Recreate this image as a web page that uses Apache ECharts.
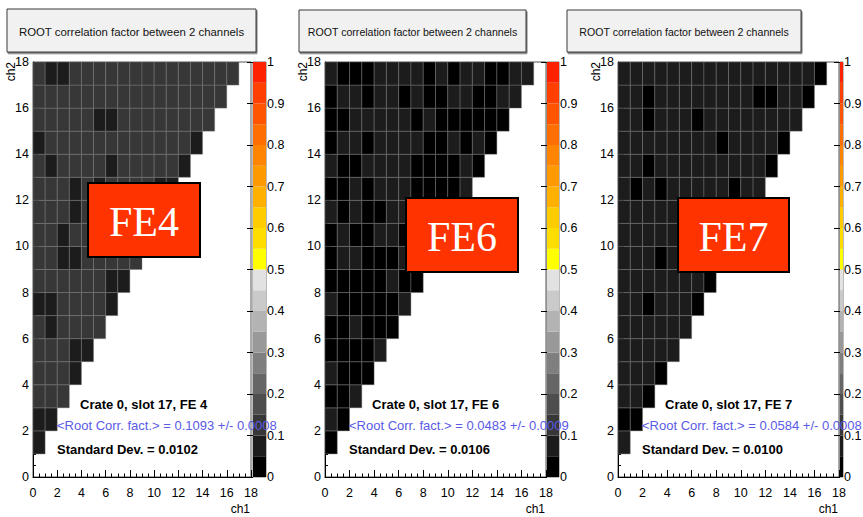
<!DOCTYPE html>
<html>
<head>
<meta charset="utf-8">
<script src="https://cdn.jsdelivr.net/npm/echarts@6/dist/echarts.min.js"></script>
<style>
  html, body { margin: 0; padding: 0; background: #ffffff; }
  #chart { width: 863px; height: 517px; }
</style>
</head>
<body>
<div id="chart"></div>
<script>
// ---- axis ticks ----
const chTicks = [0, 2, 4, 6, 8, 10, 12, 14, 16, 18];
const zTicks = [0, 0.1, 0.2, 0.3, 0.4, 0.5, 0.6, 0.7, 0.8, 0.9, 1];

// ---- colour scale: 20 contours from 0 to 1 ----
const zLevels = [0, 0.05, 0.1, 0.15, 0.2, 0.25, 0.3, 0.35, 0.4, 0.45, 0.5,
                 0.55, 0.6, 0.65, 0.7, 0.75, 0.8, 0.85, 0.9, 0.95, 1];
const zPalette = ['#000000', '#1c1c1c', '#373737', '#4e4e4e', '#666666',
                  '#7f7f7f', '#999999', '#b3b3b3', '#cacaca', '#e2e2e2',
                  '#ffff00', '#ffdd00', '#ffcc00', '#ffb000', '#ff9900',
                  '#ff8400', '#ff6e00', '#ff5500', '#ff4000', '#ff2200'];

// ---- correlation factor per channel pair; row k holds ch2 = k+1, entries ch1 = 0..k ----
const fe4Rows = [
  [0.096],
  [0.094, 0.097],
  [0.113, 0.111, 0.116],
  [0.112, 0.118, 0.110, 0.097],
  [0.115, 0.109, 0.114, 0.095, 0.098],
  [0.111, 0.093, 0.117, 0.112, 0.110, 0.114],
  [0.096, 0.092, 0.113, 0.111, 0.116, 0.112, 0.097],
  [0.114, 0.110, 0.112, 0.117, 0.111, 0.113, 0.095, 0.094],
  [0.112, 0.116, 0.096, 0.093, 0.110, 0.114, 0.113, 0.111, 0.115],
  [0.117, 0.111, 0.095, 0.114, 0.112, 0.110, 0.116, 0.113, 0.111, 0.112],
  [0.113, 0.110, 0.115, 0.094, 0.111, 0.117, 0.112, 0.114, 0.110, 0.113, 0.116],
  [0.111, 0.114, 0.112, 0.097, 0.116, 0.096, 0.113, 0.110, 0.115, 0.112, 0.095, 0.098],
  [0.115, 0.093, 0.111, 0.113, 0.117, 0.110, 0.096, 0.114, 0.112, 0.111, 0.116, 0.113, 0.094],
  [0.097, 0.112, 0.116, 0.110, 0.113, 0.115, 0.111, 0.114, 0.117, 0.112, 0.110, 0.113, 0.111, 0.095],
  [0.112, 0.115, 0.110, 0.114, 0.111, 0.094, 0.096, 0.113, 0.116, 0.112, 0.110, 0.114, 0.111, 0.115, 0.113],
  [0.114, 0.111, 0.113, 0.116, 0.110, 0.112, 0.115, 0.111, 0.114, 0.113, 0.117, 0.110, 0.112, 0.116, 0.111, 0.113],
  [0.113, 0.095, 0.093, 0.112, 0.115, 0.111, 0.114, 0.110, 0.116, 0.112, 0.113, 0.111, 0.117, 0.114, 0.110, 0.112, 0.115]
];

const fe6Rows = [
  [0.041],
  [0.056, 0.043],
  [0.038, 0.045, 0.058],
  [0.054, 0.039, 0.044, 0.036],
  [0.042, 0.037, 0.046, 0.040, 0.057],
  [0.044, 0.039, 0.055, 0.041, 0.047, 0.038],
  [0.053, 0.040, 0.036, 0.043, 0.039, 0.045, 0.059],
  [0.045, 0.038, 0.042, 0.035, 0.044, 0.056, 0.041, 0.047],
  [0.040, 0.054, 0.057, 0.043, 0.038, 0.046, 0.052, 0.039, 0.044],
  [0.043, 0.058, 0.039, 0.045, 0.055, 0.053, 0.041, 0.037, 0.056, 0.044],
  [0.052, 0.046, 0.057, 0.040, 0.038, 0.054, 0.059, 0.043, 0.047, 0.039, 0.042],
  [0.044, 0.037, 0.055, 0.041, 0.058, 0.053, 0.056, 0.039, 0.046, 0.042, 0.038, 0.054],
  [0.051, 0.043, 0.039, 0.057, 0.054, 0.059, 0.052, 0.045, 0.038, 0.044, 0.040, 0.056, 0.047],
  [0.046, 0.055, 0.058, 0.040, 0.053, 0.057, 0.051, 0.054, 0.042, 0.037, 0.056, 0.044, 0.052, 0.039],
  [0.038, 0.045, 0.054, 0.056, 0.052, 0.058, 0.055, 0.041, 0.057, 0.043, 0.039, 0.046, 0.040, 0.044, 0.037],
  [0.042, 0.057, 0.053, 0.039, 0.056, 0.054, 0.044, 0.058, 0.040, 0.046, 0.052, 0.055, 0.038, 0.043, 0.059, 0.053],
  [0.054, 0.041, 0.037, 0.045, 0.056, 0.052, 0.058, 0.053, 0.043, 0.057, 0.039, 0.055, 0.051, 0.044, 0.040, 0.058, 0.056]
];

const fe7Rows = [
  [0.061],
  [0.046, 0.044],
  [0.063, 0.058, 0.047],
  [0.060, 0.064, 0.057, 0.045],
  [0.062, 0.059, 0.065, 0.061, 0.058],
  [0.057, 0.063, 0.060, 0.066, 0.059, 0.062],
  [0.064, 0.058, 0.047, 0.061, 0.063, 0.056, 0.043],
  [0.059, 0.062, 0.060, 0.057, 0.065, 0.061, 0.058, 0.046],
  [0.061, 0.057, 0.063, 0.044, 0.060, 0.064, 0.059, 0.062, 0.058],
  [0.063, 0.060, 0.058, 0.062, 0.065, 0.057, 0.061, 0.059, 0.064, 0.060],
  [0.058, 0.064, 0.061, 0.059, 0.062, 0.060, 0.057, 0.063, 0.061, 0.058, 0.062],
  [0.062, 0.045, 0.060, 0.043, 0.058, 0.064, 0.061, 0.059, 0.063, 0.047, 0.060, 0.057],
  [0.060, 0.063, 0.044, 0.061, 0.057, 0.062, 0.059, 0.064, 0.060, 0.058, 0.063, 0.061, 0.046],
  [0.064, 0.059, 0.061, 0.058, 0.063, 0.060, 0.062, 0.057, 0.045, 0.061, 0.059, 0.064, 0.060, 0.043],
  [0.059, 0.062, 0.047, 0.060, 0.058, 0.063, 0.044, 0.061, 0.059, 0.062, 0.057, 0.060, 0.064, 0.058, 0.061],
  [0.061, 0.058, 0.043, 0.063, 0.060, 0.059, 0.062, 0.057, 0.064, 0.061, 0.058, 0.046, 0.044, 0.060, 0.063, 0.045],
  [0.063, 0.060, 0.058, 0.062, 0.059, 0.064, 0.061, 0.057, 0.060, 0.063, 0.058, 0.062, 0.060, 0.059, 0.064, 0.061, 0.044]
];

// ---- per-board captions ----
const boardNames = ['FE4', 'FE6', 'FE7'];
const crateLabels = ['Crate 0, slot 17, FE 4', 'Crate 0, slot 17, FE 6', 'Crate 0, slot 17, FE 7'];
const meanCorr = ['0.1093', '0.0483', '0.0584'];
const meanErr = ['0.0008', '0.0009', '0.0008'];
const stdDev = ['0.0102', '0.0106', '0.0100'];
const histTitle = 'ROOT correlation factor between 2 channels';

// ---- page layout (pixels) ----
const layout = [
  { plot: [33, 62, 218, 415], bar: [253, 13], title: [7, 9, 249, 43, 11.4], tag: [88, 183, 112, 74] },
  { plot: [325, 62, 221, 415], bar: [547, 12], title: [299, 10, 227, 42, 10.6], tag: [406, 198, 112, 74] },
  { plot: [618, 62, 221, 415], bar: [840, 12], title: [567, 10, 234, 42, 10.6], tag: [678, 198, 111, 74] }
];
const FONT = '"Liberation Sans", Arial, Helvetica, sans-serif';
const allRows = [fe4Rows, fe6Rows, fe7Rows];

function levelColor(v) {
  for (let k = 0; k < zPalette.length; k++) {
    if (v < zLevels[k + 1]) return zPalette[k];
  }
  return zPalette[zPalette.length - 1];
}

function cellData(rows) {
  const out = [];
  rows.forEach((row, k) => row.forEach((v, i) => out.push([i, k + 1, v])));
  return out;
}

function renderCell(params, api) {
  const x = api.value(0), y = api.value(1);
  const a = api.coord([x, y + 1]);
  const b = api.coord([x + 1, y]);
  return {
    type: 'rect',
    shape: { x: a[0], y: a[1], width: b[0] - a[0], height: b[1] - a[1] },
    style: { fill: levelColor(api.value(2)), stroke: 'rgba(125,125,125,0.42)', lineWidth: 1 }
  };
}

function renderLevel(params, api) {
  const lo = api.value(0), hi = api.value(1);
  const a = api.coord([0, hi]);
  const b = api.coord([1, lo]);
  return {
    type: 'rect',
    shape: { x: a[0], y: a[1], width: b[0] - a[0], height: b[1] - a[1] },
    style: { fill: zPalette[api.value(2)] }
  };
}

const levelData = zPalette.map((c, k) => [zLevels[k], zLevels[k + 1], k]);

const grids = [], xAxes = [], yAxes = [], series = [], graphics = [];

layout.forEach((L, p) => {
  const [pl, pt, pw, ph] = L.plot;
  const gi = grids.length;
  grids.push({ left: pl, top: pt, width: pw, height: ph, show: true,
               borderColor: '#555', borderWidth: 1, backgroundColor: 'transparent' });
  grids.push({ left: L.bar[0], top: pt, width: L.bar[1], height: ph, show: true,
               borderColor: '#777', borderWidth: 1, backgroundColor: 'transparent' });

  xAxes.push({
    gridIndex: gi, type: 'value',
    min: chTicks[0], max: chTicks[chTicks.length - 1], interval: chTicks[1] - chTicks[0],
    axisLine: { show: true, lineStyle: { color: '#000', width: 1 } },
    axisTick: { show: true, inside: true, length: 7, lineStyle: { color: '#000' } },
    minorTick: { show: true, splitNumber: 4, length: 3.5, lineStyle: { color: '#000' } },
    axisLabel: { margin: 9, fontSize: 12.5, color: '#000', fontFamily: FONT },
    splitLine: { show: false }, minorSplitLine: { show: false }
  });
  yAxes.push({
    gridIndex: gi, type: 'value', position: 'left',
    min: chTicks[0], max: chTicks[chTicks.length - 1], interval: chTicks[1] - chTicks[0],
    axisLine: { show: true, lineStyle: { color: '#000', width: 1 } },
    axisTick: { show: true, inside: true, length: 6, lineStyle: { color: '#000' } },
    minorTick: { show: true, splitNumber: 4, length: 3, lineStyle: { color: '#000' } },
    axisLabel: { margin: 4, fontSize: 12.5, color: '#000', fontFamily: FONT },
    splitLine: { show: false }, minorSplitLine: { show: false }
  });
  // colour bar axes
  xAxes.push({ gridIndex: gi + 1, type: 'value', min: 0, max: 1, show: false });
  yAxes.push({
    gridIndex: gi + 1, type: 'value', position: 'right',
    min: zTicks[0], max: zTicks[zTicks.length - 1], interval: zTicks[1] - zTicks[0],
    axisLine: { show: false },
    axisTick: { show: true, inside: true, length: 6, lineStyle: { color: '#000' } },
    axisLabel: { margin: 1, fontSize: 12.5, color: '#000', fontFamily: FONT,
                 formatter: v => String(+v.toFixed(2)) },
    splitLine: { show: false }
  });

  series.push({
    name: boardNames[p], type: 'custom', xAxisIndex: gi, yAxisIndex: gi,
    renderItem: renderCell, encode: { x: 0, y: 1 }, data: cellData(allRows[p]),
    silent: true, clip: true
  });
  series.push({
    name: boardNames[p] + ' scale', type: 'custom', xAxisIndex: gi + 1, yAxisIndex: gi + 1,
    renderItem: renderLevel, encode: { y: [0, 1] }, data: levelData, silent: true, z: 1
  });

  // title box
  const [tx, ty, tw, th, tfs] = L.title;
  graphics.push({
    type: 'rect', z: 50, shape: { x: tx, y: ty, width: tw, height: th },
    style: { fill: '#f1f1f1', stroke: '#3a3a3a', lineWidth: 1,
             shadowColor: 'rgba(0,0,0,0.55)', shadowOffsetX: 1, shadowOffsetY: 1.5, shadowBlur: 0 }
  });
  graphics.push({
    type: 'text', z: 51, x: tx + tw / 2, y: ty + th / 2 + 1,
    style: { text: histTitle, font: tfs + 'px ' + FONT, fill: '#111',
             align: 'center', verticalAlign: 'middle' }
  });

  // board tag
  const [gx, gy, gw, gh] = L.tag;
  graphics.push({
    type: 'rect', z: 60, shape: { x: gx, y: gy, width: gw, height: gh },
    style: { fill: '#ff3300', stroke: '#000', lineWidth: 2 }
  });
  graphics.push({
    type: 'text', z: 61, x: gx + gw / 2, y: gy + gh / 2 + 2,
    style: { text: boardNames[p], font: '42px "Liberation Serif", "Times New Roman", serif',
             fill: '#ffffff', align: 'center', verticalAlign: 'middle' }
  });

  // statistics captions
  graphics.push({
    type: 'text', z: 70, x: pl + 47, y: 404,
    style: { text: crateLabels[p], font: 'bold 13px ' + FONT, fill: '#000',
             align: 'left', verticalAlign: 'middle' }
  });
  graphics.push({
    type: 'text', z: 70, x: pl + 24, y: 425,
    style: { text: '<Root Corr. fact.> = ' + meanCorr[p] + ' +/- ' + meanErr[p],
             font: '13px ' + FONT, fill: '#5a5ae6', align: 'left', verticalAlign: 'middle' }
  });
  graphics.push({
    type: 'text', z: 70, x: pl + 24, y: 449,
    style: { text: 'Standard Dev. = ' + stdDev[p], font: 'bold 13px ' + FONT, fill: '#000',
             align: 'left', verticalAlign: 'middle' }
  });

  // axis titles
  graphics.push({
    type: 'text', z: 70, x: pl + pw - 1, y: 509,
    style: { text: 'ch1', font: '12px ' + FONT, fill: '#000', align: 'right', verticalAlign: 'middle' }
  });
  graphics.push({
    type: 'text', z: 70, x: pl - 16, y: pt, rotation: Math.PI / 2,
    style: { text: 'ch2', font: '12px ' + FONT, fill: '#000', align: 'right', verticalAlign: 'bottom' }
  });
});

const chart = echarts.init(document.getElementById('chart'), null, { renderer: 'svg' });
chart.setOption({
  backgroundColor: '#ffffff',
  animation: false,
  grid: grids,
  xAxis: xAxes,
  yAxis: yAxes,
  series: series,
  graphic: { elements: graphics }
});
</script>
</body>
</html>
